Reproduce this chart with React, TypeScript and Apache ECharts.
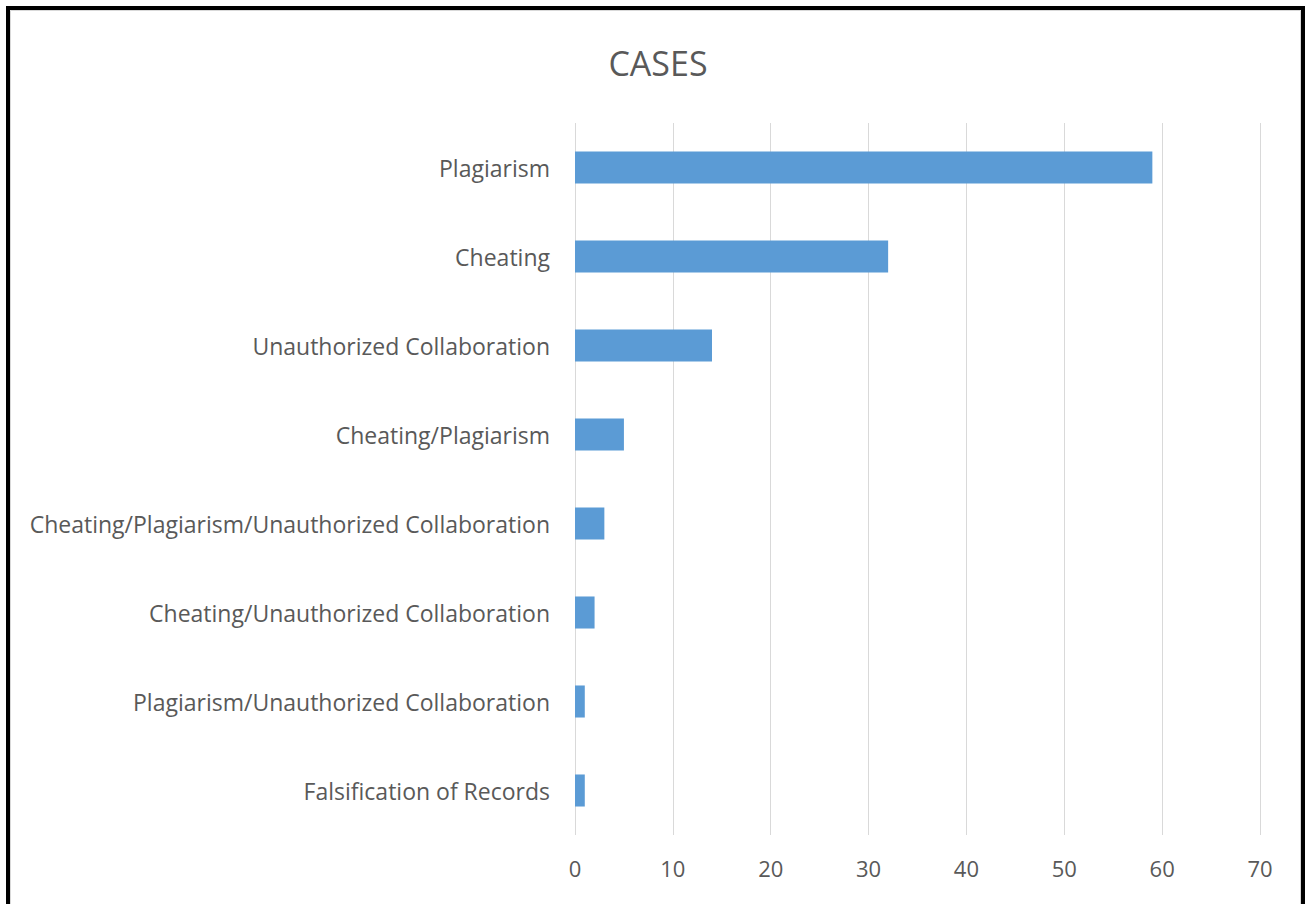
import React, { useEffect, useRef } from "react";
import * as echarts from "echarts";

const categories = [
  "Plagiarism",
  "Cheating",
  "Unauthorized Collaboration",
  "Cheating/Plagiarism",
  "Cheating/Plagiarism/Unauthorized Collaboration",
  "Cheating/Unauthorized Collaboration",
  "Plagiarism/Unauthorized Collaboration",
  "Falsification of Records",
];
const cases = [59, 32, 14, 5, 3, 2, 1, 1];
const xTicks = [0, 10, 20, 30, 40, 50, 60, 70];
const titleText = "CASES";

const FONT = "'Open Sans', sans-serif";

export default function App() {
  const ref = useRef<HTMLDivElement>(null);
  useEffect(() => {
    document.body.style.margin = "0";
    document.body.style.overflow = "hidden";
    const chart = echarts.init(ref.current!, undefined, { renderer: "svg" });
    chart.setOption({
      animation: false,
      backgroundColor: "#ffffff",
      graphic: [
        { type: "rect", shape: { x: 8, y: 8, width: 1295, height: 1000 }, style: { fill: "none", stroke: "#000", lineWidth: 4 } },
        { type: "rect", shape: { x: 10.5, y: 10.5, width: 1290, height: 1000 }, style: { fill: "none", stroke: "#d9d9d9", lineWidth: 1 } },
        {
          type: "text",
          x: 658,
          y: 63,
          style: {
            text: titleText,
            fontFamily: FONT,
            fontSize: 34,
            fill: "#595959",
            textAlign: "center",
            textVerticalAlign: "middle",
          },
        },
      ],
      grid: { left: 575, right: 45, top: 123, bottom: 69, containLabel: false },
      xAxis: {
        type: "value",
        min: xTicks[0],
        max: xTicks[xTicks.length - 1],
        interval: 10,
        axisLine: { show: false },
        axisTick: { show: false },
        splitLine: { show: true, lineStyle: { color: "#d9d9d9", width: 1 } },
        axisLabel: { fontFamily: FONT, fontSize: 22, color: "#595959", margin: 22 },
      },
      yAxis: {
        type: "category",
        data: categories,
        inverse: true,
        axisLine: { show: false },
        axisTick: { show: false },
        axisLabel: { fontFamily: FONT, fontSize: 23, color: "#595959", margin: 25 },
      },
      series: [
        {
          type: "bar",
          data: cases,
          barCategoryGap: "64%",
          itemStyle: { color: "#5B9BD5" },
        },
      ],
    });
    return () => chart.dispose();
  }, []);
  return <div ref={ref} style={{ position: "fixed", left: 0, top: 0, width: 1305, height: 904 }} />;
}
